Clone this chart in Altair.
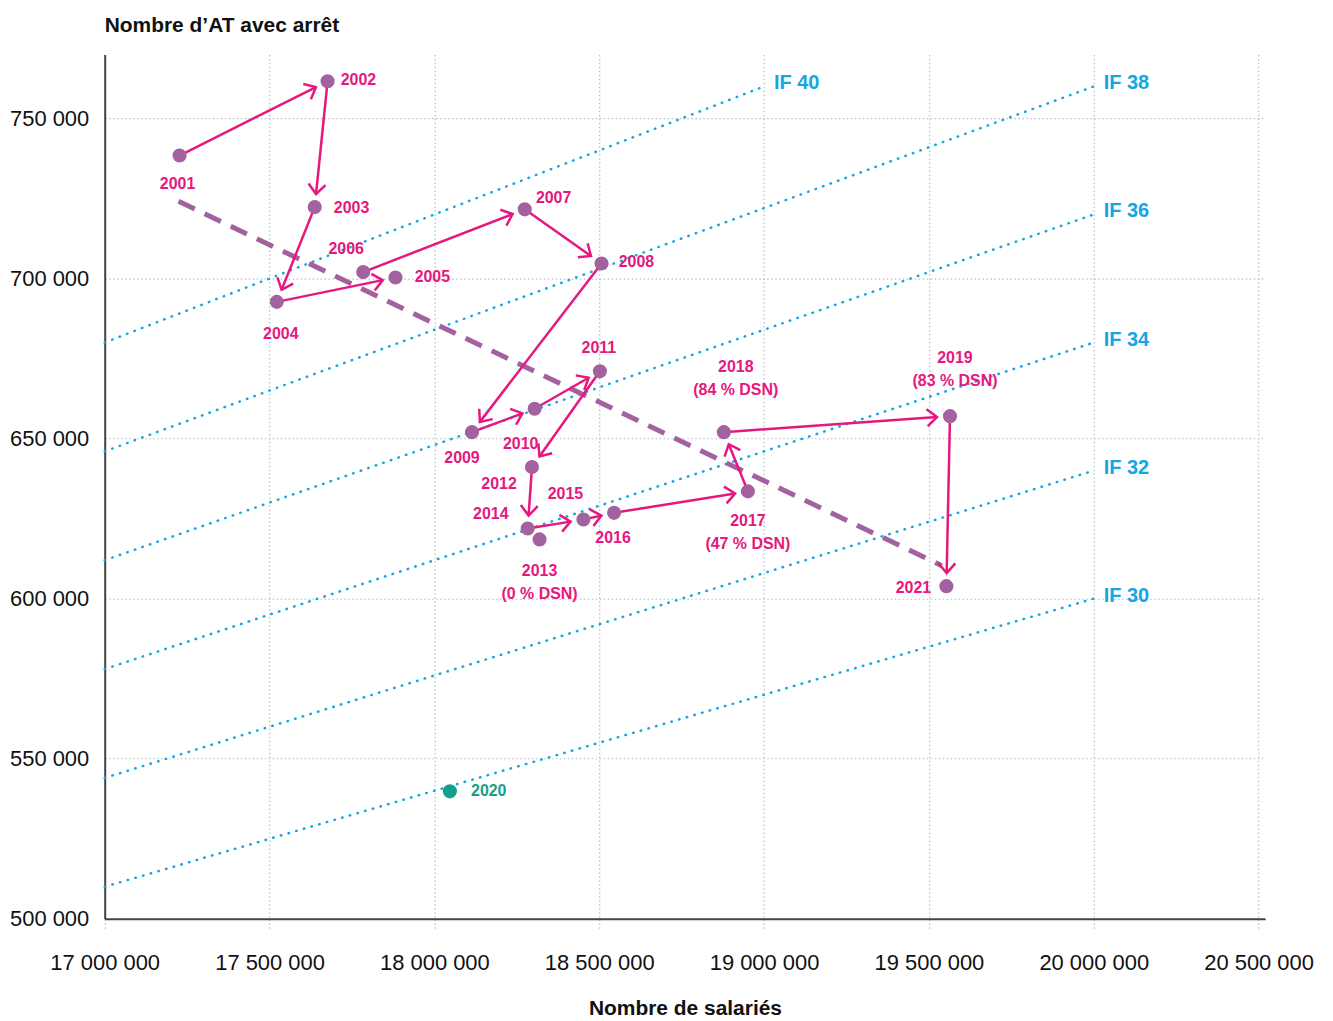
import math
import altair as alt
import pandas as pd

# ---------------- data ----------------
years = [2001, 2002, 2003, 2004, 2005, 2006, 2007, 2008, 2009, 2010, 2011,
         2012, 2013, 2014, 2015, 2016, 2017, 2018, 2019, 2020, 2021]
salaries = [17227000, 17676000, 17637000, 17522000, 17882000, 17784000, 18274000,
            18507000, 18114000, 18304000, 18502000, 18296000, 18319000, 18283000,
            18452000, 18545000, 18951000, 18878000, 19564000, 18047000, 19553000]
at_arret = [738400, 761600, 722300, 692700, 700300, 702000, 721600,
            704700, 652000, 659300, 671000, 641100, 618500, 621900,
            624700, 626800, 633500, 652000, 657000, 539800, 603900]
dsn_notes = {2013: "(0 % DSN)", 2017: "(47 % DSN)", 2018: "(84 % DSN)", 2019: "(83 % DSN)"}

# path between years (arrows)
arrow_pairs = [(2001, 2002), (2002, 2003), (2003, 2004), (2004, 2005), (2006, 2007),
               (2007, 2008), (2008, 2009), (2009, 2010), (2010, 2011), (2011, 2012),
               (2012, 2014), (2014, 2015), (2015, 2016), (2016, 2017), (2017, 2018),
               (2018, 2019), (2019, 2021)]

# iso-frequency lines (IF = AT per 1000 employees)
if_levels = [40, 38, 36, 34, 32, 30]
if_x_start = [17000000] * 6
if_x_end = [19000000, 20000000, 20000000, 20000000, 20000000, 20000000]

# trend (dashed)
trend_x = [17224000, 19539000]
trend_y = [724100, 610300]

x_ticks = [17000000, 17500000, 18000000, 18500000, 19000000, 19500000, 20000000, 20500000]
y_ticks = [500000, 550000, 600000, 650000, 700000, 750000]

# ---------------- styles ----------------
X_DOMAIN = [17000000, 20520000]
Y_DOMAIN = [500000, 770000]
W, H = 1164, 867
PXX = W / (X_DOMAIN[1] - X_DOMAIN[0])
PXY = H / (Y_DOMAIN[1] - Y_DOMAIN[0])

# label pixel offsets (dx, dy) relative to each point, screen coordinates
label_offsets = {
    2001: (-2, 29), 2002: (31, -1), 2003: (37, 1), 2004: (4, 32), 2005: (37, -1),
    2006: (-17, -23), 2007: (29, -11), 2008: (35, -1), 2009: (-10, 26), 2010: (-14, 35),
    2011: (-1, -23), 2012: (-33, 17), 2013: (0, 32), 2014: (-37, -15), 2015: (-18, -26),
    2016: (-1, 25), 2017: (0, 30), 2018: (12, -65), 2019: (5, -58), 2020: (39, 0),
    2021: (-33, 2),
}
NOTE_GAP = 23
ARROW_GAP = 13

FONT = "Liberation Sans, Arial, sans-serif"
PINK = "#E6177D"
PURPLE = "#A2619F"
CYAN = "#14A6DF"
TEAL = "#12A08A"
GRID = "#B3BEC6"

xs = alt.Scale(domain=X_DOMAIN, nice=False, zero=False)
ys = alt.Scale(domain=Y_DOMAIN, nice=False, zero=False)

pts = pd.DataFrame({"year": years, "x": salaries, "y": at_arret})
pts["kind"] = ["2020" if yv == 2020 else "main" for yv in years]
pos = {yr: (xv, yv) for yr, xv, yv in zip(years, salaries, at_arret)}

# arrows
arr_rows = []
for a, b in arrow_pairs:
    x1, y1 = pos[a]
    x2, y2 = pos[b]
    dxp = (x2 - x1) * PXX
    dyp = -(y2 - y1) * PXY
    L = math.hypot(dxp, dyp)
    tx = x2 - (dxp / L * ARROW_GAP) / PXX
    ty = y2 + (dyp / L * ARROW_GAP) / PXY
    ang = math.degrees(math.atan2(dyp, dxp)) % 360
    arr_rows.append({"x": x1, "y": y1, "x2": tx, "y2": ty, "angle": ang})
arr = pd.DataFrame(arr_rows)

# labels
lab_rows = []
for yr in years:
    xv, yv = pos[yr]
    dx, dy = label_offsets[yr]
    col = "2020" if yr == 2020 else "main"
    lab_rows.append({"x": xv + dx / PXX, "y": yv - dy / PXY, "text": str(yr), "kind": col})
    if yr in dsn_notes:
        lab_rows.append({"x": xv + dx / PXX, "y": yv - (dy + NOTE_GAP) / PXY,
                         "text": dsn_notes[yr], "kind": col})
labs = pd.DataFrame(lab_rows)

ifl = pd.DataFrame({
    "x": if_x_start, "x2": if_x_end,
    "y": [lv / 1000 * s for lv, s in zip(if_levels, if_x_start)],
    "y2": [lv / 1000 * e for lv, e in zip(if_levels, if_x_end)],
    "label": [f"IF {lv}" for lv in if_levels],
})

trend = pd.DataFrame({"x": [trend_x[0]], "y": [trend_y[0]], "x2": [trend_x[1]], "y2": [trend_y[1]]})

label_expr = "replace(format(datum.value, ',d'), regexp(',', 'g'), ' ')"

x_axis = alt.Axis(values=x_ticks, labelExpr=label_expr, title="Nombre de salariés",
                  grid=True, gridColor=GRID, gridDash=[1.5, 2.5], gridWidth=1.2,
                  domainColor="#444444", domainWidth=2, labelFlush=False,
                  ticks=True, tickColor=GRID, tickDash=[1.5, 2.5], tickSize=10, tickWidth=1.2,
                  labelFont=FONT, labelFontSize=22, labelColor="#111111", labelPadding=24,
                  titleFont=FONT, titleFontSize=21, titleFontWeight="bold", titleColor="#111111",
                  titlePadding=24)
y_axis = alt.Axis(values=y_ticks, labelExpr=label_expr, title=None,
                  grid=True, gridColor=GRID, gridDash=[1.5, 2.5], gridWidth=1.2,
                  domainColor="#444444", domainWidth=2, ticks=False, labelFlush=False,
                  labelFont=FONT, labelFontSize=22, labelColor="#111111", labelPadding=16)


def X(field):
    return alt.X(field, scale=xs, axis=x_axis)


def Y(field):
    return alt.Y(field, scale=ys, axis=y_axis)


if_lines = alt.Chart(ifl).mark_rule(color=CYAN, strokeWidth=2.5, strokeDash=[0.5, 7.5], strokeCap="round").encode(
    x=X("x:Q"), y=Y("y:Q"), x2="x2:Q", y2="y2:Q")

if_text = alt.Chart(ifl).mark_text(color=CYAN, font=FONT, fontSize=20, fontWeight="bold",
                                   align="left", baseline="middle", dx=10, dy=-3).encode(
    x=X("x2:Q"), y=Y("y2:Q"), text="label:N")

trend_line = alt.Chart(trend).mark_rule(color=PURPLE, strokeWidth=5, strokeDash=[18, 11]).encode(
    x=X("x:Q"), y=Y("y:Q"), x2="x2:Q", y2="y2:Q")

arrow_lines = alt.Chart(arr).mark_rule(color=PINK, strokeWidth=2.5).encode(
    x=X("x:Q"), y=Y("y:Q"), x2="x2:Q", y2="y2:Q")

arrow_heads = alt.Chart(arr).mark_point(shape="M -1 -0.85 L 0 0 L -1 0.85", filled=False,
                                        stroke=PINK, strokeWidth=2.5, size=400, opacity=1).encode(
    x=X("x2:Q"), y=Y("y2:Q"), angle=alt.Angle("angle:Q", scale=None))

points = alt.Chart(pts).mark_circle(size=200, opacity=1).encode(
    x=X("x:Q"), y=Y("y:Q"),
    color=alt.Color("kind:N", scale=alt.Scale(domain=["main", "2020"], range=[PURPLE, TEAL]), legend=None))

labels = alt.Chart(labs).mark_text(font=FONT, fontSize=16, fontWeight="bold",
                                   align="center", baseline="middle").encode(
    x=X("x:Q"), y=Y("y:Q"), text="text:N",
    color=alt.Color("kind:N", scale=alt.Scale(domain=["main", "2020"], range=[PINK, TEAL]), legend=None))

chart = alt.layer(if_lines, if_text, trend_line, arrow_lines, arrow_heads, points, labels).properties(
    width=W, height=H,
    title=alt.TitleParams("Nombre d’AT avec arrêt", anchor="start", frame="group", font=FONT,
                          fontSize=21, fontWeight="bold", color="#111111", offset=18),
    padding={"left": 97, "top": 45, "right": 60, "bottom": 100},
    autosize=alt.AutoSizeParams(type="none"),
    view=alt.ViewBackground(stroke="transparent", strokeWidth=0),
).resolve_scale(color="independent").configure(background="white")

chart.save("out.html", embed_options={"renderer": "svg", "actions": False})
